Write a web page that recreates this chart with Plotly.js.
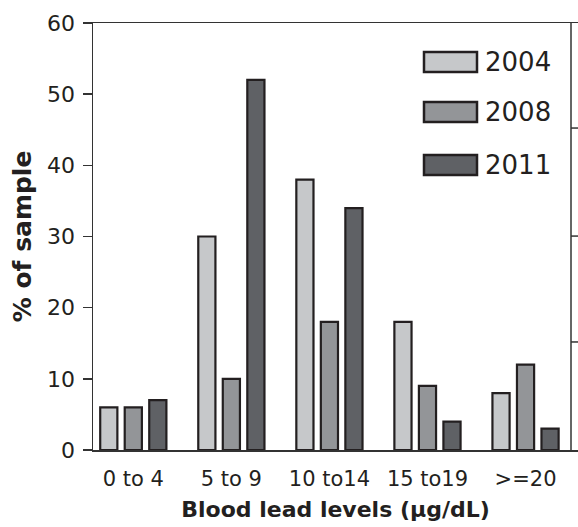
<!DOCTYPE html>
<html>
<head>
<meta charset="utf-8">
<script src="https://cdn.plot.ly/plotly-3.0.1.min.js"></script>
<style>html,body{margin:0;padding:0;background:#fff}#chart{width:578px;height:527px}</style>
</head>
<body>
<div id="chart"></div>
<script>
const categories = ["0 to 4", "5 to 9", "10 to14", "15 to19", ">=20"];
const years = ["2004", "2008", "2011"];
const values2004 = [6, 30, 38, 18, 8];
const values2008 = [6, 10, 18, 9, 12];
const values2011 = [7, 52, 34, 4, 3];
const colors = ["#c6c8ca", "#939598", "#5f6165"];

const ink = "#231f20";
const FONT = "DejaVu Sans, Arial, sans-serif";
const series = [values2004, values2008, values2011];
const traces = series.map((vals, i) => ({
  type: "bar",
  name: years[i],
  x: categories,
  y: vals,
  marker: {color: colors[i], line: {color: ink, width: 2.2}},
  showlegend: false,
  hoverinfo: "x+y+name"
}));

// custom legend (wide boxes like the reference)
const L = 93, W = 485, B = 450, H = 427;
const px = v => (v - L) / W;
const py = v => (B - v) / H;
const legendRows = [62, 112, 165];
const shapes = [];
const annotations = [];
years.forEach((yr, i) => {
  const cy = legendRows[i];
  shapes.push({type: "rect", xref: "paper", yref: "paper",
    x0: px(424), x1: px(477), y0: py(cy - 10), y1: py(cy + 10),
    fillcolor: colors[i], line: {color: ink, width: 2.5}});
  annotations.push({xref: "paper", yref: "paper", x: px(483), y: py(cy),
    xanchor: "left", yanchor: "middle", text: yr, showarrow: false,
    font: {family: FONT, size: 26, color: ink}});
});
// right frame line and ticks of adjacent panel
shapes.push({type: "line", xref: "paper", yref: "paper", x0: px(571), x1: px(571), y0: 0, y1: 1,
  line: {color: "#333", width: 1.5}});
[0.253, 0.501, 0.754].forEach(v => shapes.push({type: "line", xref: "paper", yref: "paper",
  x0: px(571), x1: 1, y0: v, y1: v, line: {color: "#333", width: 1.5}}));

const layout = {
  width: 578, height: 527,
  margin: {l: 93, r: 0, t: 23, b: 77},
  paper_bgcolor: "#fff", plot_bgcolor: "#fff",
  barmode: "group", bargap: 0.25, bargroupgap: 0.3,
  font: {family: FONT, color: ink},
  xaxis: {
    type: "category",
    range: [-0.411, 4.535],
    showline: true, mirror: true, linecolor: "#333", linewidth: 1.5,
    ticks: "", showgrid: false, zeroline: false,
    tickfont: {size: 21, color: ink},
    ticklabelstandoff: 9,
    title: {text: "Blood lead levels (µg/dL)", font: {size: 22, color: ink, weight: "bold"}, standoff: 12}
  },
  yaxis: {
    range: [0, 60], dtick: 10, tick0: 0,
    showline: true, linecolor: "#333", linewidth: 1.5,
    ticks: "outside", ticklen: 9, tickwidth: 1.5, tickcolor: "#333",
    showgrid: false, zeroline: false,
    tickfont: {size: 22, color: ink},
    ticklabelstandoff: 3,
    title: {text: "% of sample", font: {size: 25, color: ink, weight: "bold"}, standoff: 8}
  },
  shapes: shapes,
  annotations: annotations
};

Plotly.newPlot("chart", traces, layout, {displayModeBar: false, staticPlot: true});
</script>
</body>
</html>
